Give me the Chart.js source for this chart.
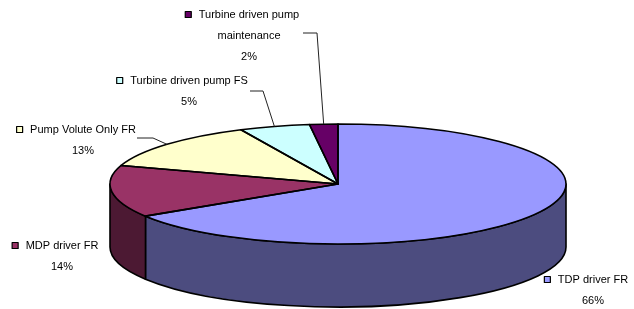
<!DOCTYPE html>
<html>
<head>
<meta charset="utf-8">
<style>
  html, body { margin: 0; padding: 0; background: #fff; overflow: hidden; }
  #wrap { width: 634px; height: 309px; position: relative; }
</style>
<script src="https://cdn.jsdelivr.net/npm/chart.js@4.4.0/dist/chart.umd.min.js"></script>
</head>
<body>
<div id="wrap"><canvas id="pie"></canvas></div>
<script>
const categories = ['TDP driver FR', 'MDP driver FR', 'Pump Volute Only FR', 'Turbine driven pump FS', ['Turbine driven pump', 'maintenance']];
const shares = [66, 14, 13, 5, 2];
const topColors = ['#9999ff', '#993366', '#ffffcc', '#ccffff', '#660066'];
const sideColors = ['#4c4c7f', '#4c1933', '#80806a', '#668080', '#330033'];

// label blocks: centre x of the text, y of the first line
const labelSpots = [
  { cx: 593, y: 280 },
  { cx: 62, y: 246 },
  { cx: 83, y: 130 },
  { cx: 189, y: 81 },
  { cx: 249, y: 15 }
];
// leader line: [x start, y, x of elbow], null when the label sits by the slice
const leaderStarts = [null, null, [137, 138, 153], [250, 91, 263], [303, 33, 317]];

const RX = 228, RY = 60, DEPTH = 63;
const FONT = '11px "Liberation Sans", Arial, sans-serif';

const pie3d = {
    id: 'pie3d',
    beforeDatasetsDraw(chart) {
        const ctx = chart.ctx;
        const arcs = chart.getDatasetMeta(0).data;
        const cx = arcs[0].x, cy = arcs[0].y, r = arcs[0].outerRadius;

        // front walls of the disc
        arcs.forEach((arc, i) => {
            const a = Math.max(arc.startAngle, 0);
            const b = Math.min(arc.endAngle, Math.PI);
            if (b <= a) return;
            ctx.beginPath();
            ctx.ellipse(cx, cy, r, RY, 0, a, b);
            ctx.lineTo(cx + r * Math.cos(b), cy + DEPTH + RY * Math.sin(b));
            ctx.ellipse(cx, cy + DEPTH, r, RY, 0, b, a, true);
            ctx.closePath();
            ctx.fillStyle = sideColors[i];
            ctx.fill();
            ctx.lineWidth = 1.6;
            ctx.strokeStyle = '#000';
            ctx.lineJoin = 'round';
            ctx.stroke();
        });

        // squash the top face into an ellipse
        ctx.save();
        ctx.translate(cx, cy);
        ctx.scale(1, RY / r);
        ctx.translate(-cx, -cy);
    },
    afterDatasetsDraw(chart) {
        const ctx = chart.ctx;
        ctx.restore();
        const arcs = chart.getDatasetMeta(0).data;
        const cx = arcs[0].x, cy = arcs[0].y, r = arcs[0].outerRadius;

        // slice outlines on the top face
        arcs.forEach((arc) => {
            ctx.beginPath();
            ctx.moveTo(cx, cy);
            ctx.lineTo(cx + r * Math.cos(arc.startAngle), cy + RY * Math.sin(arc.startAngle));
            ctx.ellipse(cx, cy, r, RY, 0, arc.startAngle, arc.endAngle);
            ctx.closePath();
            ctx.lineWidth = 1.6;
            ctx.strokeStyle = '#000';
            ctx.lineJoin = 'round';
            ctx.stroke();
        });

        // labels
        const total = shares.reduce((s, v) => s + v, 0);
        ctx.font = FONT;
        ctx.textBaseline = 'middle';
        ctx.textAlign = 'center';
        arcs.forEach((arc, i) => {
            const spot = labelSpots[i];
            const lines = [].concat(categories[i]);
            lines.push(Math.round(shares[i] / total * 100) + '%');
            lines.forEach((t, j) => {
                ctx.fillStyle = '#000';
                ctx.fillText(t, spot.cx, spot.y + j * 21);
                if (j === 0) {
                    const left = spot.cx - ctx.measureText(t).width / 2;
                    ctx.fillStyle = topColors[i];
                    ctx.fillRect(left - 13.5, spot.y - 3.5, 6, 6);
                    ctx.lineWidth = 1.2;
                    ctx.strokeStyle = '#000';
                    ctx.strokeRect(left - 13.5, spot.y - 3.5, 6, 6);
                }
            });

            const ls = leaderStarts[i];
            if (ls) {
                const mid = (arc.startAngle + arc.endAngle) / 2;
                ctx.beginPath();
                ctx.moveTo(ls[0], ls[1]);
                ctx.lineTo(ls[2], ls[1]);
                ctx.lineTo(cx + r * Math.cos(mid), cy + RY * Math.sin(mid));
                ctx.lineWidth = 1;
                ctx.strokeStyle = '#222';
                ctx.stroke();
            }
        });
    }
};

new Chart(document.getElementById('pie'), {
    type: 'pie',
    data: {
        labels: categories,
        datasets: [{
            data: shares,
            backgroundColor: topColors,
            borderWidth: 0,
            radius: RX,
            clip: false
        }]
    },
    options: {
        responsive: true,
        maintainAspectRatio: false,
        animation: false,
        events: [],
        layout: { padding: { left: 238, right: 196, top: 84, bottom: 25 } },
        plugins: { legend: { display: false }, tooltip: { enabled: false } }
    },
    plugins: [pie3d]
});
</script>
</body>
</html>
